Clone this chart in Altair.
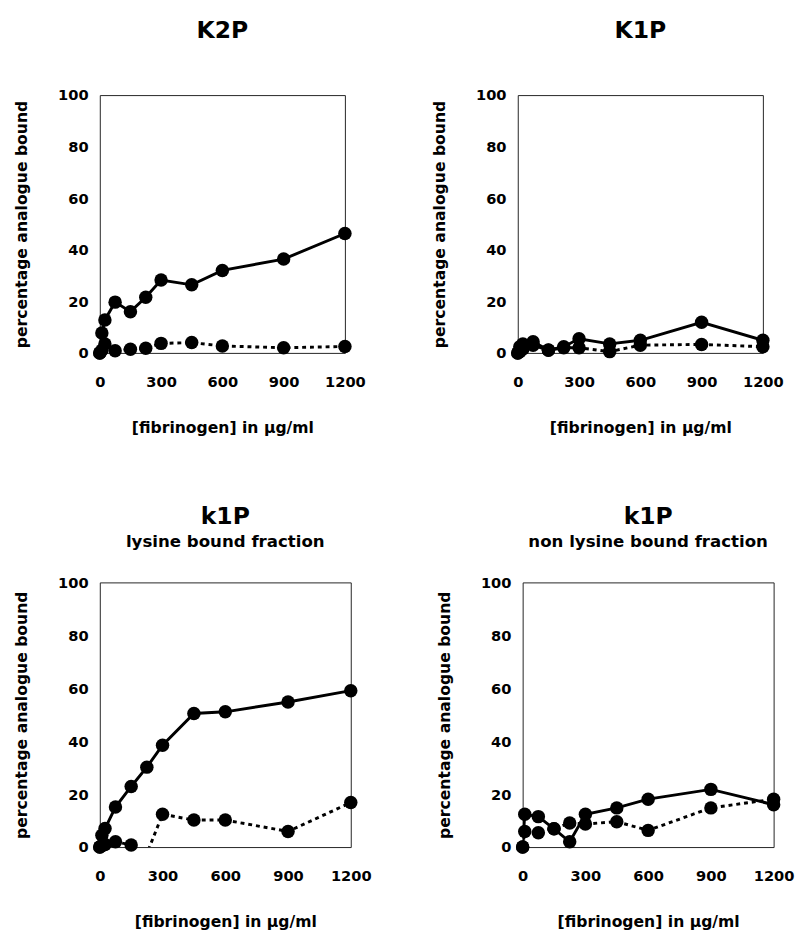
import altair as alt
import pandas as pd

# ---- data ----
x_top = [0, 10, 25, 75, 150, 225, 300, 450, 600, 900, 1200]
k2p_solid = [0, 7.7, 12.8, 19.7, 16.0, 21.6, 28.3, 26.4, 32.0, 36.4, 46.3]
k2p_dotted = [0, 1.0, 3.5, 0.8, 1.4, 1.8, 3.7, 4.0, 2.7, 2.0, 2.5]

k1p_solid = [0, 2.4, 3.5, 4.3, 1.1, 2.4, 5.5, 3.5, 4.9, 11.9, 4.9]
k1p_dotted = [0, 0.5, 1.5, 3.0, 1.0, 2.0, 2.0, 0.5, 3.0, 3.3, 2.4]

x_lys = [0, 10, 25, 75, 150, 225, 300, 450, 600, 900, 1200]
lys_solid = [0, 4.5, 7.0, 15.1, 22.9, 30.2, 38.5, 50.5, 51.1, 54.8, 59.1]
lys_dotted = [0, 0.5, 1.0, 2.0, 0.8, -2.5, 12.4, 10.2, 10.2, 5.9, 16.8]

x_nl = [0, 10, 75, 150, 225, 300, 450, 600, 900, 1200]
nl_solid = [0, 12.4, 11.5, 6.9, 2.0, 12.4, 14.8, 18.1, 21.8, 16.0]
nl_dotted = [0, 5.9, 5.4, 6.9, 9.1, 8.7, 9.6, 6.3, 14.8, 18.1]

x_ticks = [0, 300, 600, 900, 1200]
y_ticks = [0, 20, 40, 60, 80, 100]

FONT = "DejaVu Sans"


def make_df(xs, solid, dotted):
    rows = []
    for xv, yv in zip(xs, solid):
        rows.append({"x": xv, "y": yv, "series": "solid"})
    for xv, yv in zip(xs, dotted):
        rows.append({"x": xv, "y": yv, "series": "dotted"})
    return pd.DataFrame(rows)


def panel(df, title, subtitle, offset, w, h, xlab_pad, xtitle_pad):
    x = alt.X("x:Q", scale=alt.Scale(domain=[0, 1200], nice=False),
              axis=alt.Axis(values=x_ticks, format="d", labelFlush=False,
                            labelPadding=xlab_pad, titlePadding=xtitle_pad,
                            title="[fibrinogen] in µg/ml"))
    y = alt.Y("y:Q", scale=alt.Scale(domain=[0, 100], nice=False),
              axis=alt.Axis(values=y_ticks, format="d", labelFlush=False,
                            title="percentage analogue bound"))
    base = alt.Chart(df)
    solid = base.transform_filter(alt.datum.series == "solid").mark_line(
        color="black", strokeWidth=3, clip=True).encode(x=x, y=y)
    dotted = base.transform_filter(alt.datum.series == "dotted").mark_line(
        color="black", strokeWidth=3, strokeDash=[4, 4], clip=True).encode(x=x, y=y)
    pts = base.transform_filter(alt.datum.y >= 0).mark_circle(
        color="black", size=190, opacity=1).encode(x=x, y=y)
    if subtitle:
        t = alt.TitleParams(text=title, subtitle=subtitle, offset=offset)
    else:
        t = alt.TitleParams(text=title, offset=offset)
    return alt.layer(dotted, solid, pts).properties(width=w, height=h, title=t)


p1 = panel(make_df(x_top, k2p_solid, k2p_dotted), "K2P", None, 46, 251, 264, 22, 31)
p2 = panel(make_df(x_top, k1p_solid, k1p_dotted), "K1P", None, 46, 251, 264, 22, 31)
p3 = panel(make_df(x_lys, lys_solid, lys_dotted), "k1P", "lysine bound fraction", 26,
           257, 271, 22, 31)
p4 = panel(make_df(x_nl, nl_solid, nl_dotted), "k1P", "non lysine bound fraction", 26,
           257, 271, 22, 31)

top = alt.hconcat(p1, p2, spacing=177, bounds="flush")
bottom = alt.hconcat(p3, p4, spacing=176, bounds="flush")

chart = alt.vconcat(top, bottom, spacing=70).properties(
    padding={"left": 5, "right": 5, "top": 0, "bottom": 0}
).configure(
    background="white"
).configure_view(
    stroke="#222", strokeWidth=1
).configure_axis(
    grid=False, ticks=False, tickSize=0, domain=False,
    labelFont=FONT, labelFontSize=15, labelFontWeight="bold", labelColor="black",
    titleFont=FONT, titleFontSize=16, titleFontWeight="bold", titleColor="black",
).configure_axisY(
    labelPadding=12, titlePadding=29
).configure_title(
    font=FONT, fontSize=24, fontWeight="bold", color="black", anchor="middle",
    subtitleFont=FONT, subtitleFontSize=17, subtitleFontWeight="bold",
    subtitleColor="black", subtitlePadding=6
)

chart.save("out.html", embed_options={"renderer": "svg", "actions": False})
